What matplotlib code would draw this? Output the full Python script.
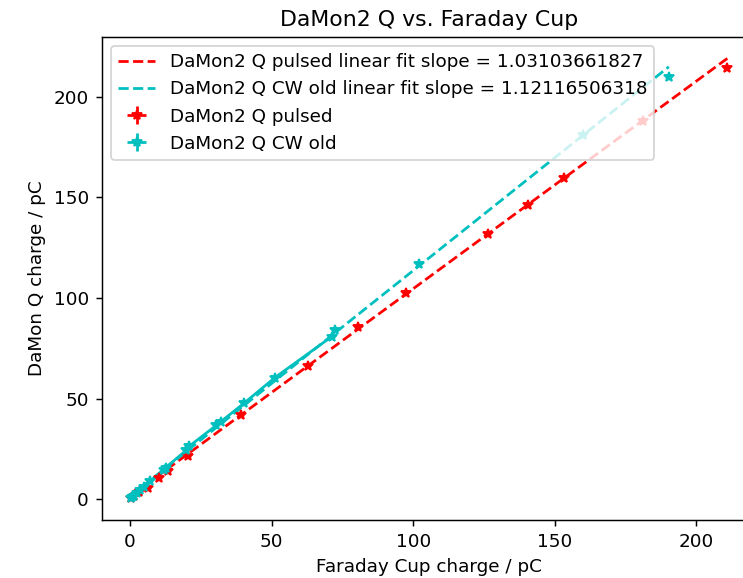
import matplotlib
matplotlib.use("Agg")
import matplotlib.pyplot as plt
import numpy as np

# Data
pulsed_x = [0.5, 1.5, 3.0, 6.5, 10.2, 13.5, 20.6, 39.1, 63.0, 80.6, 97.5, 126.5, 140.4, 153.4, 181.3, 211.0]
pulsed_y = [0.5, 1.5, 3.8, 5.8, 10.8, 14.0, 21.5, 41.8, 66.2, 85.5, 102.5, 131.8, 146.0, 159.5, 188.0, 214.5]
pulsed_xerr = [0.3] * len(pulsed_x)
pulsed_yerr = [0.3] * len(pulsed_y)

cw_x = [0.3, 0.8, 1.5, 2.5, 3.5, 5.0, 7.1, 12.0, 12.6, 19.8, 21.0, 30.5, 32.0, 40.3, 51.2, 71.2, 72.4, 102.0, 160.0, 190.3]
cw_y = [0.5, 1.2, 1.8, 3.0, 4.5, 6.0, 9.2, 14.5, 15.8, 24.3, 26.5, 36.8, 38.5, 47.8, 60.5, 80.8, 84.0, 117.0, 181.0, 210.0]
cw_xerr = [0.3] * len(cw_x)
cw_yerr = [0.3] * len(cw_y)

pulsed_slope = 1.03103661827
pulsed_intercept = 1.5
cw_slope = 1.12116506318
cw_intercept = 1.5

DPI = 132
fig = plt.figure(figsize=(743 / DPI, 578 / DPI), dpi=DPI)
ax = fig.add_axes([101.7 / 743, (578 - 520.3) / 578, (756 - 101.7) / 743, (520.3 - 36.7) / 578])

px = np.array(pulsed_x)
cx = np.array(cw_x)
fx_p = np.array([px.min(), px.max()])
fx_c = np.array([cx.min(), cx.max()])

ax.plot(fx_p, pulsed_slope * fx_p + pulsed_intercept, 'r--',
        label='DaMon2 Q pulsed linear fit slope = 1.03103661827')
ax.plot(fx_c, cw_slope * fx_c + cw_intercept, 'c--',
        label='DaMon2 Q CW old linear fit slope = 1.12116506318')

# solid segment through the low-charge CW points
mask = cx < 75
ax.plot(cx[mask], np.array(cw_y)[mask], 'c-')

ax.errorbar(pulsed_x, pulsed_y, xerr=pulsed_xerr, yerr=pulsed_yerr, fmt='r*',
            label='DaMon2 Q pulsed')
ax.errorbar(cw_x, cw_y, xerr=cw_xerr, yerr=cw_yerr, fmt='c*',
            label='DaMon2 Q CW old')

ax.set_xlim(-10.0, 221.1)
ax.set_ylim(-10.4, 229.8)
ax.set_xticks([0, 50, 100, 150, 200])
ax.set_yticks([0, 50, 100, 150, 200])
ax.spines['right'].set_visible(False)
ax.set_xlabel('Faraday Cup charge / pC')
ax.set_ylabel('DaMon Q charge / pC')
ax.set_title('DaMon2 Q vs. Faraday Cup', fontsize=12)
ax.legend(loc='upper left')

fig.savefig('out.png', dpi=DPI)
